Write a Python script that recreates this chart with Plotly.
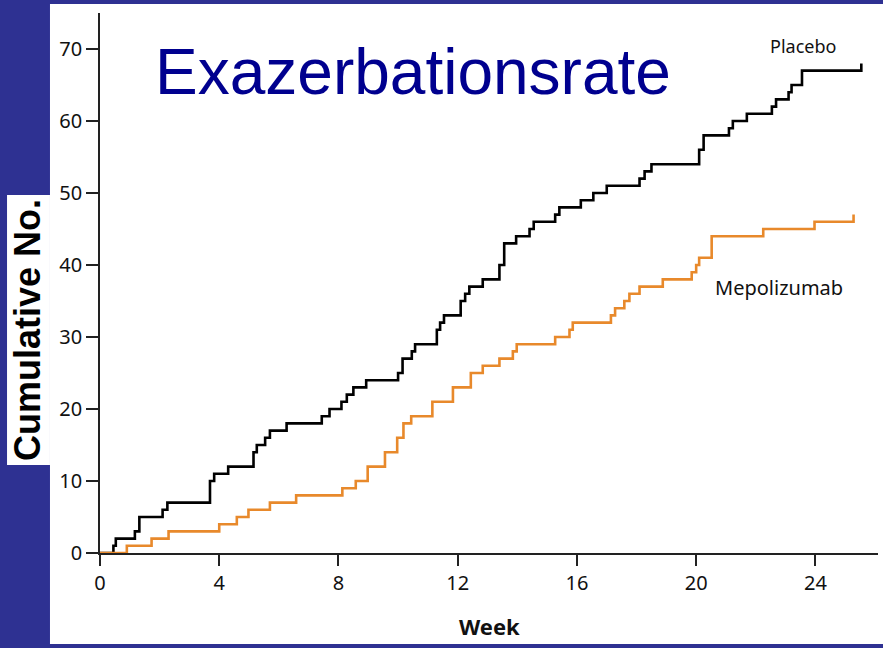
import plotly.graph_objects as go

# Step data (week of event, cumulative count after event)
placebo_week = [0, 0.45, 0.53, 1.17, 1.32, 2.1, 2.26, 3.69, 3.83, 4.3, 5.15, 5.26, 5.54, 5.7,
                6.26, 7.44, 7.7, 8.1, 8.28, 8.5, 8.93, 10.0, 10.15, 10.46, 10.57, 11.3, 11.41,
                11.54, 12.1, 12.25, 12.39, 12.84, 13.4, 13.56, 13.96, 14.41, 14.55, 15.27,
                15.41, 16.13, 16.55, 17.0, 18.1, 18.27, 18.5, 20.1, 20.25, 21.1, 21.23, 21.7,
                22.54, 22.68, 23.1, 23.2, 23.55, 25.54]
placebo_cum = [0, 1, 2, 3, 5, 6, 7, 10, 11, 12, 14, 15, 16, 17,
               18, 19, 20, 21, 22, 23, 24, 25, 27, 28, 29, 31, 32,
               33, 35, 36, 37, 38, 40, 43, 44, 45, 46, 47,
               48, 49, 50, 51, 52, 53, 54, 56, 58, 59, 60, 61,
               62, 63, 64, 65, 67, 68]

mepo_week = [0, 0.9, 1.73, 2.3, 4.0, 4.59, 4.98, 5.7, 6.58, 8.13, 8.58, 8.98, 9.56, 9.97,
             10.18, 10.44, 11.15, 11.84, 12.44, 12.84, 13.4, 13.85, 13.98, 15.27, 15.75,
             15.86, 17.14, 17.28, 17.59, 17.76, 18.1, 18.88, 19.85, 20.0, 20.1, 20.52,
             22.25, 23.97, 25.28]
mepo_cum = [0, 1, 2, 3, 4, 5, 6, 7, 8, 9, 10, 12, 14, 16,
            18, 19, 21, 23, 25, 26, 27, 28, 29, 30, 31,
            32, 33, 34, 35, 36, 37, 38, 39, 40, 41, 44,
            45, 46, 47]

x_ticks = [0, 4, 8, 12, 16, 20, 24]
y_ticks = [0, 10, 20, 30, 40, 50, 60, 70]

title_text = "Exazerbationsrate"
ylabel_text = "Cumulative No."
xlabel_text = "Week"
placebo_label = "Placebo"
mepo_label = "Mepolizumab"

BLUE_BG = "#2E3192"
TITLE_BLUE = "#00008F"
ORANGE = "#E8892B"
TICK_FONT = "Noto Sans"

fig = go.Figure()
fig.add_trace(go.Scatter(x=placebo_week, y=placebo_cum, mode="lines",
                         line=dict(shape="hv", color="black", width=2.6),
                         name=placebo_label, showlegend=False, hoverinfo="skip"))
fig.add_trace(go.Scatter(x=mepo_week, y=mepo_cum, mode="lines",
                         line=dict(shape="hv", color=ORANGE, width=2.6),
                         name=mepo_label, showlegend=False, hoverinfo="skip"))

# White panel and white box behind the y-label
fig.add_shape(type="rect", xref="paper", yref="paper", layer="below",
              x0=-0.0643, x1=1.01, y0=-0.1685, y1=1.0167,
              fillcolor="white", line=dict(width=0))
fig.add_shape(type="rect", xref="paper", yref="paper", layer="below",
              x0=-0.1195, x1=-0.0643, y0=0.163, y1=0.663,
              fillcolor="white", line=dict(width=0))

fig.update_layout(
    width=883, height=648,
    margin=dict(l=100, r=5, t=13, b=95),
    paper_bgcolor=BLUE_BG,
    plot_bgcolor="white",
    showlegend=False,
    xaxis=dict(range=[0, 26.1], tickvals=x_ticks, ticktext=[str(v) for v in x_ticks],
               showgrid=False, zeroline=False, showline=True, linecolor="#222222",
               linewidth=1.6, ticks="outside", ticklen=11, tickwidth=1.6, tickcolor="#222222",
               tickfont=dict(family=TICK_FONT, size=20, color="#111111")),
    yaxis=dict(range=[0, 75], tickvals=y_ticks, ticktext=[str(v) for v in y_ticks],
               showgrid=False, zeroline=False, showline=True, linecolor="#222222",
               linewidth=1.6, ticks="outside", ticklen=12, tickwidth=1.6, tickcolor="#222222",
               tickfont=dict(family=TICK_FONT, size=20, color="#111111")),
    annotations=[
        dict(text=title_text, xref="paper", yref="paper", x=0.4017, y=0.891,
             xanchor="center", yanchor="middle", showarrow=False,
             font=dict(family="Liberation Sans, Arial", size=64, color=TITLE_BLUE)),
        dict(text="<b>" + ylabel_text + "</b>", xref="paper", yref="paper", x=-0.0925, y=0.413,
             xanchor="center", yanchor="middle", showarrow=False, textangle=-90,
             font=dict(family="Liberation Sans, Arial", size=36, color="black")),
        dict(text="<b>" + xlabel_text + "</b>", xref="paper", yref="paper", x=0.5, y=-0.135,
             xanchor="center", yanchor="middle", showarrow=False,
             font=dict(family=TICK_FONT, size=22, color="#111111")),
        dict(text=placebo_label, xref="x", yref="y", x=22.4, y=70.4,
             xanchor="left", yanchor="middle", showarrow=False,
             font=dict(family=TICK_FONT, size=18, color="#111111")),
        dict(text=mepo_label, xref="x", yref="y", x=20.56, y=36.9,
             xanchor="left", yanchor="middle", showarrow=False,
             font=dict(family=TICK_FONT, size=20, color="#111111")),
    ],
)

fig.write_html("out.html", config={"displayModeBar": False},
               post_script="document.body.style.margin='0';")
